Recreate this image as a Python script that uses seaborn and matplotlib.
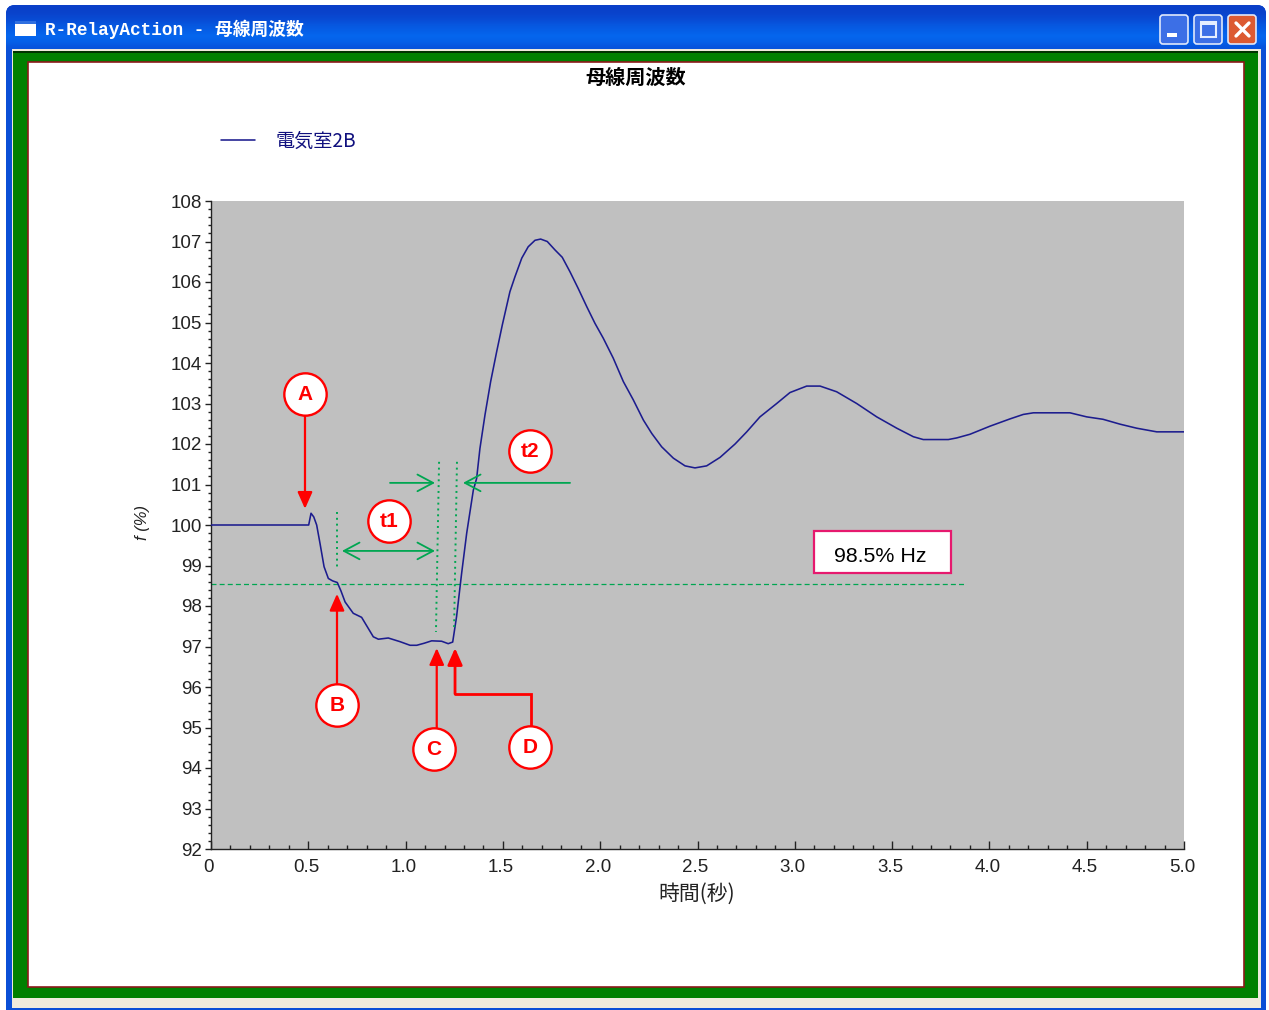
import numpy as np
import pandas as pd
import matplotlib
matplotlib.use("Agg")
import matplotlib.pyplot as plt
import matplotlib.transforms as mtrans
from matplotlib.patches import Rectangle, FancyBboxPatch
from matplotlib.ticker import MultipleLocator
import seaborn as sns

# ---- data ----
time_s = [0, 0.25, 0.49, 0.502, 0.514, 0.528, 0.543, 0.56, 0.581, 0.603, 0.625, 0.649, 0.668, 0.689, 0.731, 0.774,
          0.834, 0.86, 0.911, 0.971, 1.023, 1.057, 1.095, 1.134, 1.185, 1.219, 1.242, 1.262, 1.288, 1.314, 1.348,
          1.365, 1.382, 1.408, 1.437, 1.468, 1.497, 1.536, 1.562, 1.597, 1.63, 1.665, 1.694, 1.728, 1.768, 1.805,
          1.845, 1.887, 1.931, 1.973, 2.016, 2.067, 2.119, 2.17, 2.222, 2.265, 2.316, 2.376, 2.436, 2.487, 2.547,
          2.616, 2.693, 2.753, 2.821, 2.907, 2.975, 3.061, 3.13, 3.215, 3.318, 3.421, 3.524, 3.609, 3.66, 3.789,
          3.832, 3.9, 4.003, 4.106, 4.174, 4.226, 4.414, 4.5, 4.584, 4.671, 4.757, 4.86, 5.0]
freq_pct = [100, 100, 100, 100, 100.29, 100.2, 100, 99.55, 98.97, 98.68, 98.62, 98.58, 98.37, 98.1, 97.82, 97.72,
            97.24, 97.18, 97.21, 97.12, 97.03, 97.03, 97.08, 97.14, 97.13, 97.07, 97.11, 97.74, 98.81, 99.8, 100.86,
            101.15, 101.89, 102.72, 103.54, 104.28, 104.94, 105.76, 106.13, 106.59, 106.87, 107.03, 107.06, 107.0,
            106.79, 106.61, 106.25, 105.84, 105.39, 104.98, 104.61, 104.12, 103.54, 103.09, 102.59, 102.26, 101.93,
            101.65, 101.46, 101.41, 101.46, 101.67, 102.0, 102.3, 102.67, 103.0, 103.27, 103.43, 103.43, 103.29,
            103.0, 102.67, 102.39, 102.18, 102.11, 102.11, 102.15, 102.24, 102.44, 102.62, 102.73, 102.77, 102.77,
            102.67, 102.61, 102.49, 102.39, 102.3, 102.3]
series_name = "電気室2B"
chart_title = "母線周波数"
window_title = "R-RelayAction - 母線周波数"
x_label = "時間(秒)"
y_label = "f (%)"
threshold_pct = 98.55
threshold_end_s = 3.87
threshold_label = "98.5% Hz"
x_tick_values = [0, 0.5, 1, 1.5, 2, 2.5, 3, 3.5, 4, 4.5, 5]
x_tick_labels = ["0", "0.5", "1.0", "1.5", "2.0", "2.5", "3.0", "3.5", "4.0", "4.5", "5.0"]
y_tick_values = list(range(92, 109))
callout_names = ["A", "B", "C", "D", "t1", "t2"]
callout_x = [0.483, 0.647, 1.146, 1.64, 0.915, 1.64]
callout_y = [103.23, 95.56, 94.47, 94.52, 100.1, 101.83]

FONT = ["Liberation Sans", "Noto Sans CJK JP", "DejaVu Sans"]
CJK = ["Noto Sans CJK JP", "DejaVu Sans"]
W, H = 1269, 1010
RED, GREEN = "#ff0000", "#00a651"
NAVY = "#1c1c8e"

sns.set_style("white")
plt.rcParams["font.family"] = FONT
fig = plt.figure(figsize=(W / 100, H / 100), dpi=100)

# ---- window frame, drawn in pixel coordinates on a backing axes ----
bg = fig.add_axes([0, 0, 1, 1], zorder=0)
bg.set_xlim(0, W)
bg.set_ylim(H, 0)
bg.axis("off")
frame = FancyBboxPatch((6, 5), 1260, 1020, boxstyle="round,pad=0,rounding_size=9", fc="#0a4fd6", ec="none")
bg.add_patch(frame)
grad = np.array([0.0, 0.12, 0.3, 0.6, 0.8, 1.0, 0.85, 0.55])[:, None]
cmap = matplotlib.colors.LinearSegmentedColormap.from_list("xp", ["#0a3fc8", "#0566ee"])
im = bg.imshow(grad, extent=(6, 1266, 50, 5), aspect="auto", cmap=cmap, interpolation="bilinear", zorder=1)
im.set_clip_path(frame)
bg.set_xlim(0, W)
bg.set_ylim(H, 0)
bg.add_patch(Rectangle((12, 49), 1249, 959, fc="#efebdc", ec="none", zorder=2))
bg.add_patch(Rectangle((13, 51), 1245, 947, fc="#008000", ec="none", zorder=3))
bg.add_patch(Rectangle((13, 51), 1245, 2, fc="#003300", ec="none", zorder=3))
bg.add_patch(Rectangle((27.5, 62), 1216.5, 925, fc="white", ec="#8b1a1a", lw=1.2, zorder=4))
bg.add_patch(Rectangle((15, 21), 21, 15, fc="white", ec="none", zorder=4))
bg.add_patch(Rectangle((15, 21), 21, 3, fc="#2f6fe0", ec="none", zorder=5))
bg.text(45, 29.5, window_title, color="white", fontsize=12.8, fontweight="bold", va="center", ha="left",
        family=["Liberation Mono", "Noto Sans CJK JP"], zorder=6)
for x0, fc in [(1160, "#3c6fe6"), (1194, "#3c6fe6"), (1228, "#dc5a32")]:
    bg.add_patch(FancyBboxPatch((x0, 15), 28, 29, boxstyle="round,pad=0,rounding_size=3",
                                fc=fc, ec="#dfe8fb", lw=1.2, zorder=6))
bg.add_patch(Rectangle((1167, 33), 10, 4, fc="white", ec="none", zorder=7))
bg.add_patch(Rectangle((1201, 22), 15, 15, fc="none", ec="#e6eeff", lw=1.5, zorder=7))
bg.add_patch(Rectangle((1201, 22), 15, 3, fc="#e6eeff", ec="none", zorder=7))
bg.plot([1236, 1249], [23, 36], color="white", lw=2.4, zorder=7)
bg.plot([1236, 1249], [36, 23], color="white", lw=2.4, zorder=7)
bg.set_xlim(0, W)
bg.set_ylim(H, 0)

# ---- chart ----
ax = fig.add_axes([211 / W, 1 - 849 / H, (1184 - 211) / W, (849 - 201) / H], zorder=2)
ax.set_facecolor("#c0c0c0")
df = pd.DataFrame({"t": time_s, "f": freq_pct, "s": series_name})
sns.lineplot(data=df, x="t", y="f", hue="s", palette=[NAVY], linewidth=1.15, errorbar=None, ax=ax, zorder=3)
ax.set_xlim(0, 5)
ax.set_ylim(92, 108)

for s in ["top", "right"]:
    ax.spines[s].set_visible(False)
for s in ["left", "bottom"]:
    ax.spines[s].set_color("#222222")
    ax.spines[s].set_linewidth(1.0)

ax.set_xticks(x_tick_values)
ax.set_xticklabels(x_tick_labels)
ax.set_yticks(y_tick_values)
ax.xaxis.set_minor_locator(MultipleLocator(0.1))
ax.yaxis.set_minor_locator(MultipleLocator(0.2))
ax.tick_params(axis="x", which="major", direction="in", length=5.5, width=1.0, color="#222222",
               labelsize=13.5, labelcolor="#222222", pad=7, bottom=True)
ax.tick_params(axis="x", which="minor", direction="in", length=3, width=1.0, color="#222222", bottom=True)
ax.tick_params(axis="y", which="major", direction="out", length=4.5, width=1.0, color="#222222",
               labelsize=13.5, labelcolor="#222222", pad=2.2, left=True)
ax.tick_params(axis="y", which="minor", direction="out", length=2.4, width=1.0, color="#222222", left=True)
shift = mtrans.ScaledTranslation(-2 / 100, 0, fig.dpi_scale_trans)
for lab in ax.get_xticklabels():
    lab.set_transform(lab.get_transform() + shift)

ax.set_xlabel(x_label, family=CJK, fontsize=15, color="#222222", style="italic")
ax.xaxis.set_label_coords((697 - 211) / (1184 - 211), -(894 - 849) / (849 - 201), transform=ax.transAxes)
ax.xaxis.label.set_va("center")
ax.set_ylabel(y_label, family=FONT, fontsize=12, color="#222222", style="italic")
ax.yaxis.set_label_coords(-(211 - 143) / (1184 - 211), (849 - 523) / (849 - 201), transform=ax.transAxes)
ax.yaxis.label.set_va("center")

fig.text(636 / W, 1 - 77 / H, chart_title, family=CJK, fontsize=14.5, fontweight="bold", color="black",
         ha="center", va="center", zorder=5)

leg = ax.legend(loc="center left", bbox_to_anchor=(221 / W, 1 - 141 / H), bbox_transform=fig.transFigure,
                frameon=False, handlelength=1.75, handletextpad=1.1, borderpad=0, borderaxespad=0,
                prop={"family": CJK, "size": 13.8, "style": "italic"}, title=None)
leg.get_texts()[0].set_color("#10107e")

# threshold line and value box
ax.plot([0, threshold_end_s], [threshold_pct, threshold_pct], color=GREEN, lw=0.9, ls=(0, (4, 2.5)), zorder=2)
ax.add_patch(Rectangle((3.099, 98.81), 0.704, 1.04, fc="white", ec="#e6196e", lw=1.6, zorder=4))
ax.text(3.438, 99.21, threshold_label, fontsize=15.4, color="black", ha="center", va="center", zorder=5)

# timing markers
for xs, ys in [([0.6475, 0.6475], [100.32, 98.89]), ([1.172, 1.156], [101.56, 97.36]), ([1.264, 1.249], [101.56, 97.41])]:
    ax.plot(xs, ys, color=GREEN, lw=1.4, ls=(0, (1, 2)), zorder=4)
open_head = dict(color=GREEN, lw=1.3, shrinkA=0, shrinkB=0, mutation_scale=15)
ax.annotate("", xy=(1.151, 99.36), xytext=(0.673, 99.36), arrowprops=dict(arrowstyle="<->,head_length=0.75,head_width=0.4", **open_head), zorder=5)
ax.annotate("", xy=(1.151, 101.04), xytext=(0.92, 101.04), arrowprops=dict(arrowstyle="->,head_length=0.75,head_width=0.4", **open_head), zorder=5)
ax.annotate("", xy=(1.295, 101.04), xytext=(1.845, 101.04), arrowprops=dict(arrowstyle="->,head_length=0.75,head_width=0.4", **open_head), zorder=5)

# red pointers
solid_head = dict(arrowstyle="-|>,head_length=0.72,head_width=0.32", color=RED, lw=1.6, shrinkA=0, shrinkB=0, mutation_scale=14)
ax.annotate("", xy=(0.483, 100.4), xytext=(0.483, 102.72), arrowprops=solid_head, zorder=6)
ax.annotate("", xy=(0.6475, 98.3), xytext=(0.6475, 96.05), arrowprops=solid_head, zorder=6)
ax.annotate("", xy=(1.16, 96.96), xytext=(1.16, 94.99), arrowprops=solid_head, zorder=6)
ax.plot([1.644, 1.644, 1.254], [95.01, 95.83, 95.83], color=RED, lw=2.0, solid_joinstyle="miter", zorder=6)
ax.annotate("", xy=(1.254, 96.96), xytext=(1.254, 95.83), arrowprops=dict(solid_head, lw=2.0), zorder=6)

# lettered circles
for name, cx, cy in zip(callout_names, callout_x, callout_y):
    ax.plot([cx], [cy], marker="o", ms=30.5, mfc="white", mec=RED, mew=1.7, ls="none", zorder=7)
    ax.text(cx, cy - 0.02, name, fontsize=15, fontweight="bold", color=RED, ha="center", va="center", zorder=8)

fig.savefig("out.png", dpi=100, facecolor="white")
